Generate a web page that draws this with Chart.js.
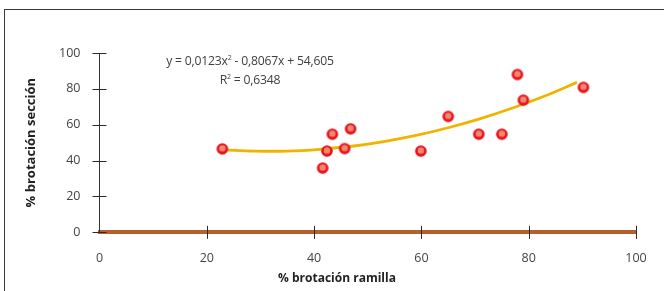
<!DOCTYPE html>
<html>
<head>
<meta charset="utf-8">
<script src="https://cdn.jsdelivr.net/npm/chart.js@4"></script>
<style>
  html, body { margin: 0; padding: 0; background: #fff; }
  #wrap { position: relative; width: 664px; height: 291px; overflow: hidden; }
  #frame { position: absolute; left: 4px; top: 9px; width: 800px; height: 400px; border: 1px solid #3a3a3a; }
  #c { position: absolute; left: 0; top: 0; }
  .eq { position: absolute; left: 130px; width: 240px; text-align: center; font-family: "Open Sans", sans-serif; font-size: 12.2px; color: #404040; line-height: 14px; white-space: nowrap; letter-spacing: -0.2px; }
  .eq sup { font-size: 7px; vertical-align: 5px; line-height: 0; }
  #xtitle { position: absolute; left: 237px; width: 200px; top: 269px; text-align: center; font-family: "Open Sans", sans-serif; font-weight: bold; font-size: 12px; color: #222; }
</style>
</head>
<body>
<div id="wrap">
  <div id="frame"></div>
  <canvas id="c" width="664" height="291"></canvas>
  <div class="eq" style="top:54px">y = 0,0123x<sup>2</sup> - 0,8067x + 54,605</div>
  <div class="eq" style="top:73px">R<sup>2</sup> = 0,6348</div>
  <div id="xtitle">% brotación ramilla</div>
</div>
<script>
// measured points: % brotación ramilla vs % brotación sección
const ramilla = [22.9, 41.6, 42.4, 43.4, 45.7, 46.8, 59.9, 65.0, 70.7, 75.0, 77.9, 79.0, 90.2];
const seccion = [46.5, 35.8, 45.3, 54.7, 46.7, 57.7, 45.3, 64.6, 54.7, 54.7, 88.0, 73.7, 80.8];

// trend curve, every 6 units
const trendX = [23, 29, 35, 41, 47, 53, 59, 65, 71, 77, 83, 89];
const trendY = [46.0, 45.3, 45.3, 46.3, 48.0, 50.6, 54.0, 58.3, 63.4, 69.3, 76.0, 83.6];

const xTicks = [0, 20, 40, 60, 80, 100];
const yTicks = [0, 20, 40, 60, 80, 100];

// red ball marker with a light highlight
function makeBall() {
  const cv = document.createElement("canvas");
  cv.width = 14;
  cv.height = 14;
  const g = cv.getContext("2d");
  g.beginPath();
  g.arc(7, 7, 5.8, 0, Math.PI * 2);
  g.fillStyle = "#e8141d";
  g.fill();
  g.beginPath();
  g.arc(7, 6.4, 3.2, 0, Math.PI * 2);
  g.fillStyle = "#f3866f";
  g.fill();
  return cv;
}

// tick marks crossing both axes
const crossTicks = {
  id: "crossTicks",
  afterDraw(chart) {
    const { ctx, chartArea, scales } = chart;
    ctx.save();
    ctx.strokeStyle = "#2a2a2a";
    ctx.lineWidth = 1;
    ctx.beginPath();
    xTicks.forEach((v) => {
      if (v === 0) return;
      const px = Math.round(scales.x.getPixelForValue(v)) + 0.5;
      ctx.moveTo(px, chartArea.bottom - 6.5);
      ctx.lineTo(px, chartArea.bottom + 6.5);
    });
    yTicks.forEach((v) => {
      const py = Math.round(scales.y.getPixelForValue(v)) + 0.5;
      ctx.moveTo(chartArea.left - 7, py);
      ctx.lineTo(chartArea.left + 7, py);
    });
    ctx.stroke();
    ctx.restore();
  },
};

new Chart(document.getElementById("c"), {
  type: "scatter",
  data: {
    datasets: [
      {
        type: "line",
        data: trendX.map((x, i) => ({ x, y: trendY[i] })),
        borderColor: "#f0b400",
        borderWidth: 2.8,
        pointRadius: 0,
        tension: 0.4,
        fill: false,
        order: 2,
      },
      {
        data: ramilla.map((x, i) => ({ x, y: seccion[i] })),
        pointStyle: makeBall(),
        pointRadius: 6,
        order: 1,
      },
    ],
  },
  options: {
    responsive: false,
    animation: false,
    layout: { padding: { top: 53, right: 28, left: 0, bottom: 0 } },
    plugins: {
      legend: { display: false },
      tooltip: { enabled: false },
    },
    scales: {
      x: {
        type: "linear",
        min: 0,
        max: 100,
        afterBuildTicks: (s) => { s.ticks = xTicks.map((v) => ({ value: v })); },
        afterFit: (s) => { s.height = 58.7; },
        ticks: {
          color: "#444",
          padding: 11,
          font: { family: "Open Sans", size: 12.5 },
        },
        grid: { display: false },
        border: { display: true, color: "#b5602a", width: 4 },
      },
      y: {
        min: 0,
        max: 100,
        afterBuildTicks: (s) => { s.ticks = yTicks.map((v) => ({ value: v })); },
        afterFit: (s) => { s.width = 99.5; },
        ticks: {
          color: "#444",
          padding: 11,
          font: { family: "Open Sans", size: 12.5 },
        },
        grid: { display: false },
        border: { display: true, color: "#333", width: 1 },
        title: {
          display: true,
          text: "% brotación sección",
          color: "#222",
          font: { family: "Open Sans", size: 13, weight: "bold" },
          padding: { top: 23, bottom: 0 },
        },
      },
    },
  },
  plugins: [crossTicks],
});
</script>
</body>
</html>
